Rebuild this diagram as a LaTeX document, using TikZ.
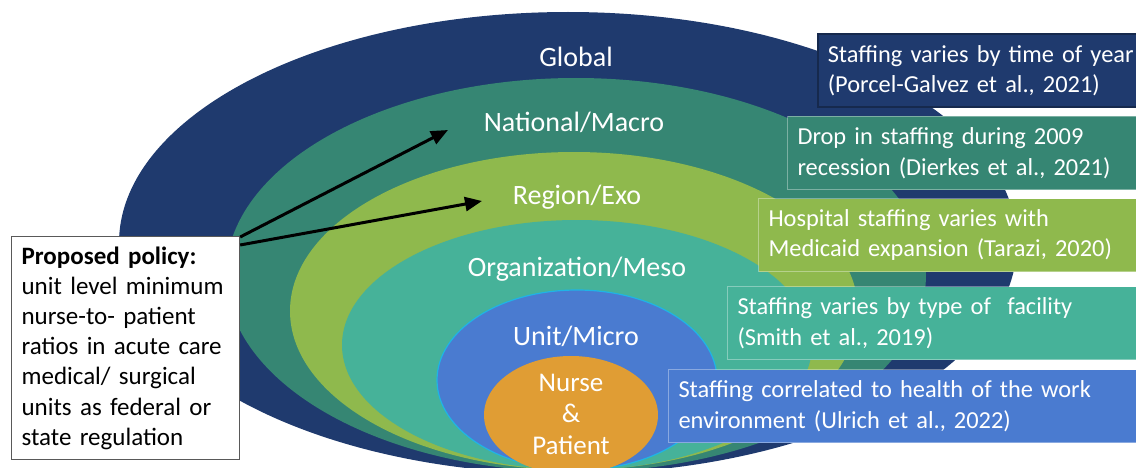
\documentclass[tikz,border=0pt]{standalone}
\usepackage{fontspec}
\setmainfont{Carlito}
\usetikzlibrary{arrows.meta}

\definecolor{globalblue}{HTML}{1F3A6E}
\definecolor{macroteal}{HTML}{368673}
\definecolor{exogreen}{HTML}{8FB94D}
\definecolor{mesoteal}{HTML}{46B299}
\definecolor{microblue}{HTML}{4A7BD0}
\definecolor{microrim}{HTML}{1FB4E6}
\definecolor{coreorange}{HTML}{E09D34}

\begin{document}
\begin{tikzpicture}[x=1pt, y=1pt,
    level/.style={text=white, font=\fontsize{28}{34}\selectfont, anchor=base},
    finding/.style={text=white, font=\fontsize{24.4}{30.5}\selectfont, align=left,
        anchor=south west, text width=470pt, inner xsep=10pt, inner ysep=0pt,
        minimum height=73pt, draw=white, draw opacity=0.35, line width=1pt},
    policybox/.style={draw=black!65, fill=white, line width=1.2pt, align=left,
        text width=208pt, inner xsep=10pt, inner ysep=10pt, anchor=north west,
        font=\fontsize{25}{30.2}\selectfont},
    pointer/.style={line width=3pt, -{Triangle[length=17pt, width=14pt]}}]
    \clip (0,0) rectangle (1136,467);

    % nested levels, outside in
    \fill[globalblue] (568,224) ellipse [x radius=449, y radius=231];
    \fill[macroteal] (576,192) ellipse [x radius=350, y radius=197];
    \fill[exogreen] (574,156) ellipse [x radius=284, y radius=159];
    \fill[mesoteal] (577,122) ellipse [x radius=235, y radius=125];
    \filldraw[fill=microblue, draw=microrim, line width=1.2pt] (577,87) ellipse [x radius=140, y radius=90];
    \fill[coreorange] (571,52) ellipse [x radius=87, y radius=59];

    \node[level] (global) at (576,400) {Global};
    \node[level] (macro) at (574,335) {National/Macro};
    \node[level] (exo) at (577,263) {Region/Exo};
    \node[level] (meso) at (577,191) {Organization/Meso};
    \node[level] (micro) at (576,122) {Unit/Micro};
    \node[level, anchor=center, align=center, font=\fontsize{27}{31.5}\selectfont] (core) at (571,53) {Nurse\\ \&\\ Patient};

    % evidence for each level
    \node[finding, fill=globalblue, draw=globalblue!70!black, draw opacity=1, line width=1.5pt] (yearBox) at (817,359)
        {Staffing varies by time of year\\(Porcel-Galvez et al., 2021)};
    \node[finding, fill=macroteal] (recessionBox) at (787,277)
        {Drop in staffing during 2009\\recession (Dierkes et al., 2021)};
    \node[finding, fill=exogreen] (medicaidBox) at (758,195)
        {Hospital staffing varies with\\Medicaid expansion (Tarazi, 2020)};
    \node[finding, fill=mesoteal] (facilityBox) at (727,107)
        {Staffing varies by type of \ facility\\(Smith et al., 2019)};
    \node[finding, fill=microblue] (workBox) at (668,24)
        {Staffing correlated to health of the work\\environment (Ulrich et al., 2022)};

    % the policy and where it acts
    \node[policybox] (policy) at (11,231)
        {\textbf{Proposed policy:}\\unit level minimum\\nurse-to- patient\\ratios in acute care\\medical/ surgical\\units as federal or\\state regulation};
    \coordinate (macroTip) at (448,337);
    \coordinate (exoTip) at (482,266);
    \draw[pointer] ([yshift=-1pt]policy.north east) -- (macroTip);
    \draw[pointer] ([yshift=-9pt]policy.north east) -- (exoTip);
\end{tikzpicture}
\end{document}
